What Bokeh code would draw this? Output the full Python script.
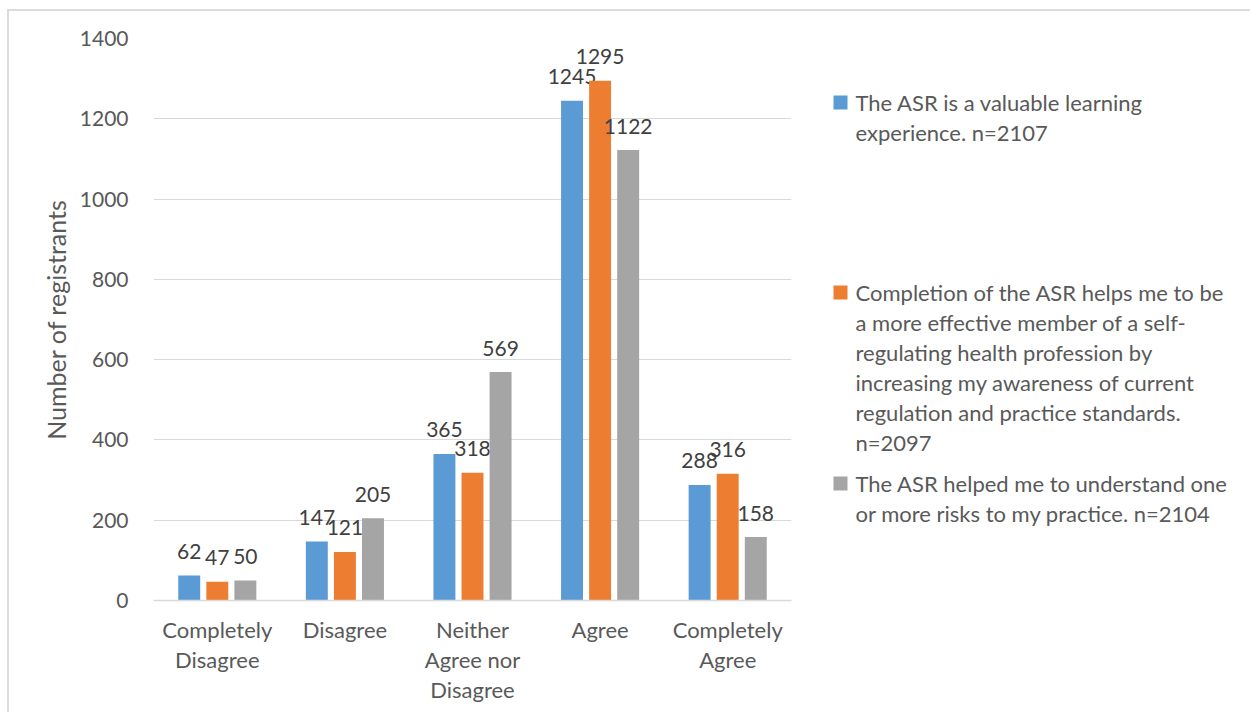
from bokeh.plotting import figure
from bokeh.layouts import row
from bokeh.models import (Range1d, FixedTicker, LinearAxis, ColumnDataSource)
from bokeh.core.properties import value
from bokeh.embed import file_html
from bokeh.resources import INLINE

# ---------------- data ----------------
categories = ["Completely\nDisagree", "Disagree", "Neither\nAgree nor\nDisagree",
              "Agree", "Completely\nAgree"]
valuable = [62, 147, 365, 1245, 288]
effective = [47, 121, 318, 1295, 316]
risks = [50, 205, 569, 1122, 158]
series_names = [
    "The ASR is a valuable learning experience. n=2107",
    "Completion of the ASR helps me to be a more effective member of a self-regulating health profession by increasing my awareness of current regulation and practice standards. n=2097",
    "The ASR helped me to understand one or more risks to my practice. n=2104",
]
legend_lines = [
    ["The ASR is a valuable learning", "experience. n=2107"],
    ["Completion of the ASR helps me to be", "a more effective member of a self-",
     "regulating health profession by", "increasing my awareness of current",
     "regulation and practice standards.", "n=2097"],
    ["The ASR helped me to understand one", "or more risks to my practice. n=2104"],
]
y_ticks = [0, 200, 400, 600, 800, 1000, 1200, 1400]

colors = ["#5B9BD5", "#ED7D31", "#A5A5A5"]
FONT = "Lato"
TXT = "#595959"

# page layout (canvas px); content starts after a 7/9 px margin + 2px border
W, H = 1250, 712
OX, OY = 9, 11
FL, FR, FT, FB = 153, 791, 38, 600
MAIN_W = 810

n = len(categories)
centers = [i + 0.5 for i in range(n)]

p = figure(width=MAIN_W - OX, height=H - OY, x_range=Range1d(0, n),
           y_range=Range1d(0, 1400), output_backend="svg", toolbar_location=None,
           min_border_left=FL - OX, min_border_right=MAIN_W - FR,
           min_border_top=FT - OY, min_border_bottom=H - FB)
p.outline_line_color = None
p.background_fill_color = "white"
p.border_fill_color = "white"

series = [valuable, effective, risks]
offsets = [-0.22, 0.0, 0.22]
for i in range(3):
    src = ColumnDataSource(dict(x=[c + offsets[i] for c in centers], top=series[i],
                                t=[str(v) for v in series[i]]))
    p.vbar(x="x", top="top", width=0.172, source=src, color=colors[i],
           line_color=None)
    p.text(x="x", y="top", text="t", source=src, text_align="center",
           text_baseline="middle", y_offset=-24, text_color="#404040",
           text_font=value(FONT), text_font_size="21px")

# y axis
p.yaxis.ticker = FixedTicker(ticks=y_ticks)
p.yaxis.axis_line_color = None
p.yaxis.major_tick_line_color = None
p.yaxis.minor_tick_line_color = None
p.yaxis.major_tick_out = 0
p.yaxis.minor_tick_out = 0
p.yaxis.major_label_text_font = FONT
p.yaxis.major_label_text_font_size = "21px"
p.yaxis.major_label_text_color = TXT
p.yaxis.major_label_standoff = 25
p.yaxis.axis_label = "Number of registrants"
p.yaxis.axis_label_text_font = FONT
p.yaxis.axis_label_text_font_size = "25px"
p.yaxis.axis_label_text_font_style = "normal"
p.yaxis.axis_label_text_color = TXT
p.yaxis.axis_label_standoff = 6

# x axis: category labels split into stacked lines (one axis per line)
split = [c.split("\n") for c in categories]
nlines = max(len(s) for s in split)


def style_axis(ax, standoff):
    ax.major_tick_line_color = None
    ax.minor_tick_line_color = None
    ax.major_tick_out = 0
    ax.minor_tick_out = 0
    ax.major_label_text_font = FONT
    ax.major_label_text_font_size = "22px"
    ax.major_label_text_color = TXT
    ax.major_label_standoff = standoff


xa = p.xaxis[0]
xa.ticker = FixedTicker(ticks=centers)
xa.major_label_overrides = {c: s[0] for c, s in zip(centers, split)}
xa.axis_line_color = "#d9d9d9"
xa.axis_line_width = 1.5
style_axis(xa, 15)
for k in range(1, nlines):
    tk = [c for c, s in zip(centers, split) if len(s) > k]
    ax = LinearAxis(ticker=FixedTicker(ticks=tk),
                    major_label_overrides={c: s[k] for c, s in zip(centers, split)
                                           if len(s) > k})
    ax.axis_line_color = None
    style_axis(ax, 0)
    p.add_layout(ax, "below")

p.xgrid.grid_line_color = None
p.ygrid.grid_line_color = "#d9d9d9"
p.ygrid.grid_line_width = 1

# ---------------- legend panel (frame aligned with main frame) ----------------
lg = figure(width=W - MAIN_W, height=H - OY, x_range=Range1d(MAIN_W, W),
            y_range=Range1d(FB, FT), output_backend="svg", toolbar_location=None,
            title_location=None, min_border_left=0, min_border_right=0,
            min_border_top=FT - OY, min_border_bottom=H - FB)
lg.axis.visible = False
lg.grid.visible = False
lg.outline_line_color = None
lg.border_fill_color = "white"
lg.background_fill_color = "white"

item_tops = [102, 292, 483]
sq_src = ColumnDataSource(dict(x=[840] * 3, y=item_tops, c=colors, name=series_names))
lg.rect(x="x", y="y", width=14, height=14, fill_color="c", line_color=None,
        source=sq_src)
tx, ty, tt = [], [], []
for i in range(3):
    for j, line in enumerate(legend_lines[i]):
        tx.append(855)
        ty.append(item_tops[i] + 30 * j)
        tt.append(line)
lg.text(x=tx, y=ty, text=tt, text_baseline="middle", text_align="left",
        text_font=value(FONT), text_font_size="22px", text_color=TXT)

layout = row(p, lg, styles={"margin-left": "7px", "margin-top": "9px",
                            "border-left": "2px solid #dcdcdc",
                            "border-top": "2px solid #dcdcdc"})

open("out.html", "w").write(file_html(layout, INLINE))
